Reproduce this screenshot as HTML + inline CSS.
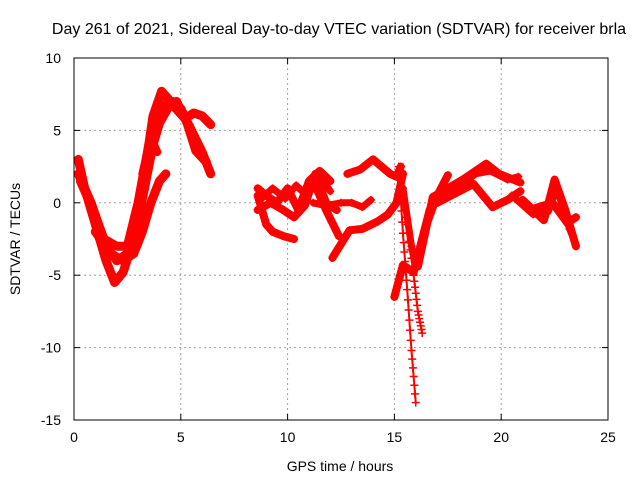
<!DOCTYPE html>
<html><head><meta charset="utf-8"><style>
body{margin:0;background:#fff}
svg{display:block;font-family:"Liberation Sans",sans-serif}
</style></head><body>
<svg id="chart" width="640" height="480">
<text x="339" y="34" text-anchor="middle" font-size="16">Day 261 of 2021, Sidereal Day-to-day VTEC variation (SDTVAR) for receiver brla</text>
<text x="340" y="471" text-anchor="middle" font-size="14">GPS time / hours</text>
<text transform="translate(20,239) rotate(-90)" text-anchor="middle" font-size="14">SDTVAR / TECUs</text>
<g id="grid"></g><g id="marks"></g><g id="axes"></g>
</svg>
<script>
const xTicks=[0,5,10,15,20,25];
const yTicks=[10,5,0,-5,-10,-15];
const trackA1=[[0.2,3],[0.5,1],[1,-1.5],[1.5,-4],[1.9,-5.5],[2.3,-4.8],[2.8,-2.5],[3.3,2],[3.7,6],[4.1,7.7],[4.4,7.2]];
const trackA2=[[0.2,2],[0.8,0],[1.5,-3],[2,-4],[2.5,-3.5],[3,-1],[3.5,3],[4,5.5],[4.5,6.8],[5,6.5],[5.5,5],[6,3.5],[6.4,2]];
const trackA3=[[1,-2],[1.7,-3.5],[2.3,-4],[2.8,-3.5],[3.2,-2],[3.6,0],[4,1.5],[4.3,2]];
const trackA4=[[2.5,-3],[3,0],[3.5,4],[4,6.5],[4.6,7],[5,6.5],[5.5,4.8]];
const trackA5=[[4.6,6.8],[5.2,5.8],[5.6,6.2],[6,6],[6.4,5.4]];
const trackA6=[[3.2,2],[3.6,4.5],[3.9,3.5]];
const trackA7=[[0.3,1.5],[0.9,-0.5],[1.4,-2.5],[2,-3],[2.6,-3],[3.1,-0.5],[3.5,2.5],[3.9,5.5],[4.3,6.8],[4.8,7],[5.3,5.5],[5.7,3.6],[6.2,2.8]];
const trackB1=[[8.6,0.5],[9,-1.5],[9.3,-2],[9.8,-2.3],[10.3,-2.5]];
const trackB2=[[8.6,1],[9,0.5],[9.5,0],[10,1],[10.5,-0.5],[11,1.5],[11.5,2.2],[12,1.5]];
const trackB3=[[8.6,-0.5],[9.2,0],[9.8,-0.5],[10.3,-1],[10.8,-0.2],[11.3,2],[11.8,0],[12.3,-0.5]];
const trackB4=[[11.2,0],[11.8,-0.2],[12.5,0],[13,0],[13.5,-0.3],[13.9,0.2]];
const trackB5=[[11.2,1.5],[11.8,-0.5],[12.4,-2.3]];
const trackB6=[[12.1,-3.8],[12.9,-1.9],[13.5,-1.8],[14.2,-1.3],[14.7,-0.8],[15.1,0],[15.4,2]];
const trackB7=[[12.8,2],[13.4,2.3],[14,3],[14.8,2],[15.1,1.8],[15.3,2.5]];
const trackB8=[[8.7,0.2],[9.3,1],[9.9,0.3],[10.4,1.2],[10.9,0.5],[11.5,1.8],[12,0.8]];
const trackC1=[[15.2,2.5],[15.4,-2.1],[15.6,-6],[15.8,-10.2],[16,-13.8]];
const trackC2=[[15.3,1.5],[15.6,-1.5],[15.9,-5],[16.1,-7.5],[16.3,-9]];
const trackC3=[[15,-6.5],[15.4,-4.3],[15.9,-4.8],[16.3,-2.5],[16.65,-0.5],[17.5,1.9]];
const trackC4=[[16.1,-4.4],[16.8,0.4],[17.5,1],[18.2,1.6],[19.3,2.7],[19.9,2],[20.9,1.4]];
const trackC5=[[17,0],[18.7,1.3],[19.6,-0.3],[20.3,0.2],[20.9,0.8]];
const trackC6=[[15.4,1],[15.8,-3],[16,-4.5],[16.4,-2],[16.9,0],[17.8,0.8],[18.8,2],[19.5,2.2],[20.3,1.6],[20.8,1.8]];
const trackD1=[[21,0.2],[22,-1.2],[22.5,1.6],[23,-0.5],[23.5,-3]];
const trackD2=[[21.3,-0.5],[22.4,0],[23.1,-1.4],[23.5,-1]];
const trackD3=[[20.5,0.5],[21.5,-0.8],[22.2,-0.6],[22.6,1],[23.2,-1.8],[23.4,-2.5]];
const tracks=[trackA1,trackA2,trackA3,trackA4,trackA5,trackA6,trackA7,trackB1,trackB2,trackB3,trackB4,trackB5,trackB6,trackB7,trackB8,trackC1,trackC2,trackC3,trackC4,trackC5,trackC6,trackD1,trackD2,trackD3];
const widths=[9,9,9,9,9,8,9,8,8,8,7,8,8,8,7,2,2,8,8,8,7,8,8,7];
const X0=74,X1=608,Y0=420,Y1=58;
const xs=t=>X0+(t-0)/25*(X1-X0);
const ys=v=>Y0-(v+15)/25*(Y0-Y1);
const NS='http://www.w3.org/2000/svg';
function mk(tag,attrs,parent){const e=document.createElementNS(NS,tag);for(const k in attrs)e.setAttribute(k,attrs[k]);parent.appendChild(e);return e;}
const grid=document.getElementById('grid'),axes=document.getElementById('axes'),marks=document.getElementById('marks');
xTicks.forEach(t=>{
 if(t>0&&t<25){const g=mk('line',{x1:xs(t),x2:xs(t),y1:Y0,y2:Y1,stroke:'#a0a0a0','stroke-dasharray':'2,3'},grid);
 
 }
 const l=mk('text',{x:xs(t),y:Y0+22,'text-anchor':'middle','font-size':14},axes);l.textContent=t;
 
 
 mk('line',{x1:xs(t),x2:xs(t),y1:Y0,y2:Y0-6,stroke:'#000'},axes);
 mk('line',{x1:xs(t),x2:xs(t),y1:Y1,y2:Y1+6,stroke:'#000'},axes);
});
yTicks.forEach(v=>{
 if(v>-15&&v<10){const g=mk('line',{x1:X0,x2:X1,y1:ys(v),y2:ys(v),stroke:'#a0a0a0','stroke-dasharray':'2,3'},grid);
 
 }
 const l=mk('text',{x:X0-13,y:ys(v)+5,'text-anchor':'end','font-size':14},axes);l.textContent=v;
 
 
 mk('line',{x1:X0,x2:X0+6,y1:ys(v),y2:ys(v),stroke:'#000'},axes);
 mk('line',{x1:X1,x2:X1-6,y1:ys(v),y2:ys(v),stroke:'#000'},axes);
});
const fr=mk('rect',{x:X0,y:Y1,width:X1-X0,height:Y0-Y1,fill:'none',stroke:'#000'},axes);


tracks.forEach((tr,i)=>{
 const p=mk('polyline',{points:tr.map(d=>xs(d[0])+','+ys(d[1])).join(' '),fill:'none',stroke:'#f00','stroke-width':widths[i],'stroke-linejoin':'round','stroke-linecap':'round'},marks);
 
 
 tr.forEach(d=>{
  const cx=xs(d[0]),cy=ys(d[1]);
  const m=mk('path',{d:`M${cx-4},${cy}h8M${cx},${cy-4}v8`,stroke:'#f00','stroke-width':1.5},marks);
  
  
 });
 if(widths[i]<4){
  for(let k=0;k<tr.length-1;k++){for(let s=1;s<6;s++){
   const cx=xs(tr[k][0]+(tr[k+1][0]-tr[k][0])*s/6),cy=ys(tr[k][1]+(tr[k+1][1]-tr[k][1])*s/6);
   mk('path',{d:`M${cx-4},${cy}h8M${cx},${cy-4}v8`,stroke:'#f00','stroke-width':1.5},marks);
  }}
 }
});
</script>
</body></html>
